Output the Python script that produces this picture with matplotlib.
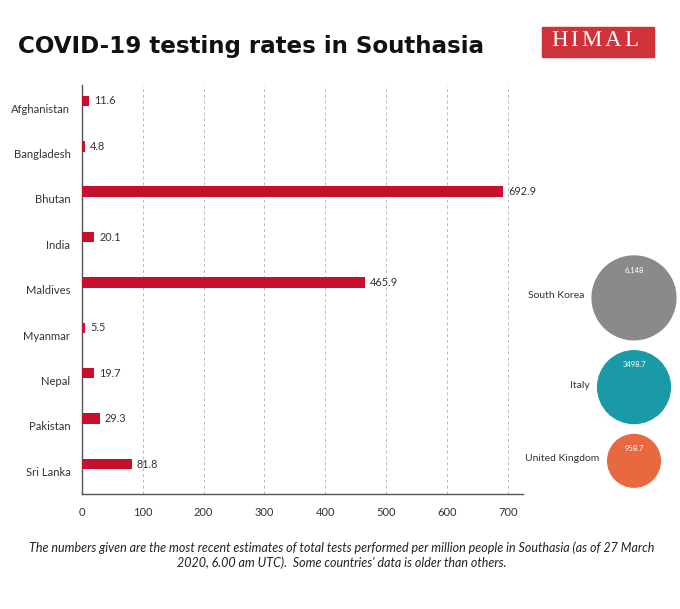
import matplotlib
matplotlib.use("Agg")
import matplotlib.pyplot as plt
from matplotlib.patches import Circle, Rectangle

countries = ["Afghanistan", "Bangladesh", "Bhutan", "India", "Maldives",
             "Myanmar", "Nepal", "Pakistan", "Sri Lanka"]
tests = [11.6, 4.8, 692.9, 20.1, 465.9, 5.5, 19.7, 29.3, 81.8]
xticks = [0, 100, 200, 300, 400, 500, 600, 700]

others = ["South Korea", "Italy", "United Kingdom"]
others_tests = [6148, 3498.7, 958.7]
others_labels = ["6,148", "3498.7", "958.7"]
others_colors = ["#8a8a8a", "#1a9aa6", "#e8683f"]

plt.rcParams['font.family'] = ['Lato', 'DejaVu Sans']
bar_red = "#c8102e"
txt = "#333333"

fig = plt.figure(figsize=(6.8, 6.09), dpi=100)
fig.patch.set_facecolor("white")

# main bar chart
ax = fig.add_axes([82/680, 1-494/609, 441/680, 409/609])
ypos = list(range(len(countries)))
ax.barh(ypos, tests, height=0.23, color=bar_red, zorder=3)
for y, v in zip(ypos, tests):
    ax.text(v + 8, y, f"{v}", va="center", ha="left", fontsize=7.8, color=txt)
ax.set_xlim(0, 725)
ax.set_ylim(8.66, -0.35)
ax.set_xticks(xticks)
ax.set_xticklabels([str(t) for t in xticks], fontsize=8, color=txt)
ax.tick_params(axis="x", length=0, pad=9)
ax.set_yticks([])
for y, name in zip(ypos, countries):
    ax.text(-19, y + 0.18, name, ha="right", va="center", fontsize=8.1,
            color=txt)
ax.grid(axis="x", color="#bbbbbb", linestyle=(0, (3, 3)), linewidth=0.7, zorder=0)
for s in ["top", "right"]:
    ax.spines[s].set_visible(False)
for s in ["left", "bottom"]:
    ax.spines[s].set_color("#555555")
    ax.spines[s].set_linewidth(1.0)

# overlay in pixel coordinates for title, logo and bubbles
ov = fig.add_axes([0, 0, 1, 1])
ov.set_xlim(0, 680)
ov.set_ylim(609, 0)
ov.axis("off")
ov.patch.set_visible(False)

ov.text(18, 47, "COVID-19 testing rates in Southasia", family="DejaVu Sans",
        fontsize=16.6, fontweight="bold", color="#111111", ha="left", va="center")

# logo with letter-spaced serif text
ov.add_patch(Rectangle((542, 27), 112, 30, color="#d0323a"))
renderer = fig.canvas.get_renderer()
x = 551
for ch in "HIMAL":
    t = ov.text(x, 41, ch, family="Liberation Serif", fontsize=16.5,
                color="white", ha="left", va="center")
    bb = t.get_window_extent(renderer)
    x += bb.width + 3

# bubbles: radius grows with fourth root of value, stacked with a gap
top = 256
gap = 11
for name, v, lab, c in zip(others, others_tests, others_labels, others_colors):
    r = 4.73 * v ** 0.25
    cy = top + r
    cx = 634
    ov.add_patch(Circle((cx, cy), r, color=c, zorder=2))
    ov.text(cx, cy - r + 14, lab, fontsize=5.5, color="white",
            ha="center", va="center", zorder=3)
    ov.text(cx - r - 8, cy - 2, name, fontsize=7.5, color=txt,
            ha="right", va="center")
    top = cy + r + gap

ov.text(342, 555, "The numbers given are the most recent estimates of total tests performed per million people in Southasia (as of 27 March\n"
        "2020, 6.00 am UTC).  Some countries' data is older than others.",
        fontsize=9, style="italic", color="#222222", ha="center", va="center",
        linespacing=1.25)

fig.savefig("out.png", dpi=100)
